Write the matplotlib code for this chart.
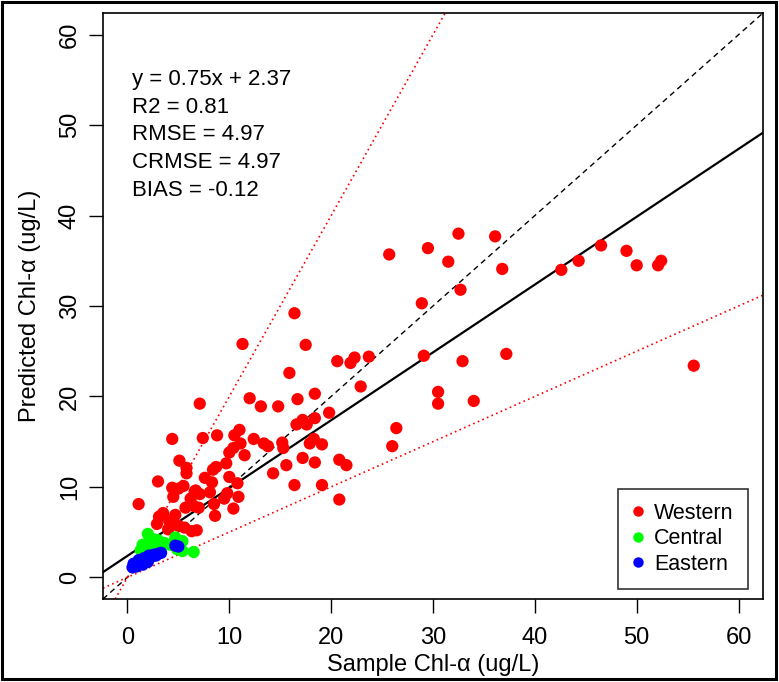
import matplotlib
matplotlib.use('Agg')
import matplotlib.pyplot as plt
from matplotlib.lines import Line2D
from matplotlib.patches import Rectangle

plt.rcParams['font.family'] = ['Liberation Sans', 'DejaVu Sans']

# --- data ---
west_x = [1.1, 3.0, 4.4, 5.1, 7.1, 7.4, 8.8, 11.3, 12.0, 13.1, 14.8, 15.9, 16.4, 16.7,
          17.5, 18.4, 19.8, 20.6, 21.9, 22.3, 23.7, 22.9, 25.7, 28.9, 29.5, 29.1, 31.5,
          32.5, 32.7, 32.9, 30.5, 30.5, 34.0, 36.1, 36.8, 37.2, 42.6, 44.3, 46.5, 49.0,
          50.0, 52.1, 52.4, 55.6, 26.0, 26.4, 20.8, 21.5, 20.8, 19.1, 19.1, 18.4, 18.4,
          17.9, 18.3, 17.6, 17.2, 16.6, 17.2, 16.4, 15.6, 15.3, 15.2, 14.3, 13.8, 13.4,
          12.4, 11.5, 11.0, 10.5, 11.1, 10.4, 10.0, 10.8, 10.9, 10.4, 10.0, 9.7, 9.8,
          9.5, 8.7, 8.4, 8.3, 8.1, 8.5, 8.6, 7.6, 7.1, 6.7, 6.5, 7.0, 6.2, 5.7, 5.8,
          5.8, 5.5, 5.0, 4.4, 4.5, 4.7, 4.1, 3.1, 3.5, 2.9, 4.0, 5.0, 5.6, 6.3, 6.8,
          6.6]
west_y = [8.1, 10.6, 15.3, 12.9, 19.2, 15.4, 15.7, 25.8, 19.8, 18.9, 18.9, 22.6, 29.2, 19.7,
          25.7, 20.3, 18.2, 23.9, 23.7, 24.3, 24.4, 21.1, 35.7, 30.3, 36.4, 24.5, 34.9,
          38.0, 31.8, 23.9, 20.5, 19.2, 19.5, 37.7, 34.1, 24.7, 34.0, 35.0, 36.7, 36.1,
          34.5, 34.5, 35.0, 23.4, 14.5, 16.5, 13.0, 12.4, 8.6, 10.2, 14.7, 12.7, 17.6,
          14.8, 15.3, 16.9, 17.4, 16.9, 13.2, 10.2, 12.4, 14.3, 14.9, 11.5, 14.5, 14.8,
          15.3, 13.5, 16.3, 15.7, 14.8, 14.3, 13.8, 10.4, 8.9, 7.6, 11.1, 12.6, 9.3,
          8.7, 12.2, 11.9, 10.5, 9.4, 8.1, 6.8, 11.0, 9.2, 9.6, 7.9, 7.7, 8.7, 7.7, 11.5,
          12.1, 10.1, 9.8, 9.9, 8.9, 6.9, 6.2, 6.7, 7.1, 5.9, 5.3, 5.7, 5.5, 5.1, 5.2,
          9.5]

cent_x = [2.0, 6.5, 5.4, 4.7, 1.3, 2.6, 3.6, 3.0, 1.5, 5.4, 2.3, 4.9, 2.1, 3.3, 4.2, 1.8]
cent_y = [4.8, 2.8, 4.0, 4.4, 3.0, 4.2, 3.8, 4.1, 3.6, 2.9, 3.4, 3.1, 3.9, 3.3, 3.6, 3.2]

east_x = [0.5, 0.7, 0.9, 1.0, 1.2, 1.4, 1.5, 1.7, 1.9, 2.0, 2.2, 2.4, 2.6, 2.8, 3.0,
          3.3, 2.1, 1.6, 0.6, 1.1, 4.7, 5.0]
east_y = [1.1, 1.3, 1.2, 1.5, 1.6, 1.7, 1.4, 1.9, 2.0, 1.7, 2.2, 2.3, 2.5, 2.4, 2.6,
          2.7, 2.4, 2.1, 1.5, 1.9, 3.5, 3.4]

fit_slope, fit_icpt = 0.75, 2.37
stats = ['y = 0.75x + 2.37', 'R2 = 0.81', 'RMSE = 4.97', 'CRMSE = 4.97', 'BIAS = -0.12']
ticks = [0, 10, 20, 30, 40, 50, 60]

fig = plt.figure(figsize=(7.79, 6.82), dpi=100)
ax = fig.add_axes([103 / 779, 1 - 599 / 682, 660 / 779, 586 / 682])

# reference lines
ax.axline((0, fit_icpt), slope=fit_slope, color='black', lw=1.6, zorder=1)
ax.axline((0, 0), slope=1, color='black', lw=1.0, ls=(0, (4, 3)), zorder=1)
ax.axline((0, 0), slope=2, color='red', lw=1.2, ls=(0, (1, 2)), zorder=1)
ax.axline((0, 0), slope=0.5, color='red', lw=1.2, ls=(0, (1, 2)), zorder=1)

ax.scatter(west_x, west_y, s=78, c='#ff0000', edgecolors='none', zorder=2)
ax.scatter(cent_x, cent_y, s=78, c='#00ff00', edgecolors='none', zorder=3)
ax.scatter(east_x, east_y, s=78, c='#0000ff', edgecolors='none', zorder=4)

ax.set_xlim(-2.4, 62.4)
ax.set_ylim(-2.4, 62.4)
ax.set_xticks(ticks)
ax.set_yticks(ticks)
ax.tick_params(axis='both', length=10, width=1, labelsize=17)
ax.tick_params(axis='x', pad=10)
ax.tick_params(axis='y', pad=6)
for lab in ax.get_yticklabels():
    lab.set_rotation(90)
    lab.set_va('center')
for sp in ax.spines.values():
    sp.set_linewidth(1.2)

ax.set_xlabel('Sample Chl-α (ug/L)', fontsize=17)
ax.set_ylabel('Predicted Chl-α (ug/L)', fontsize=17)
ax.xaxis.set_label_coords(0.5, (599 - 665.5) / 586)
ax.xaxis.label.set_va('center')
ax.yaxis.set_label_coords((30 - 103) / 660, 0.5)
ax.yaxis.label.set_va('center')

# stats text block
for i, s in enumerate(stats):
    ax.text((131.6 - 103) / 660, (599 - 79.6 - i * 27.6) / 586, s,
            transform=ax.transAxes, fontsize=16, ha='left', va='center')

handles = [Line2D([], [], ls='none', marker='o', ms=7.5, mfc=c, mec='none')
           for c in ['#ff0000', '#00ff00', '#0000ff']]
leg = ax.legend(handles, ['Western', 'Central', 'Eastern'], loc='lower right',
                bbox_to_anchor=((747.6 - 103) / 660, (599 - 589) / 586),
                borderaxespad=0, fontsize=15.5, frameon=True, fancybox=False,
                handlelength=0.6, handletextpad=0.45, borderpad=0.65, labelspacing=0.22)
leg.get_frame().set_edgecolor('black')
leg.get_frame().set_linewidth(1.2)

# outer frame around the whole picture
fig.patches.append(Rectangle((0.002, 0.004), 0.994, 0.993, transform=fig.transFigure,
                             fill=False, ec='black', lw=2.2))

fig.savefig('out.png', dpi=100)
